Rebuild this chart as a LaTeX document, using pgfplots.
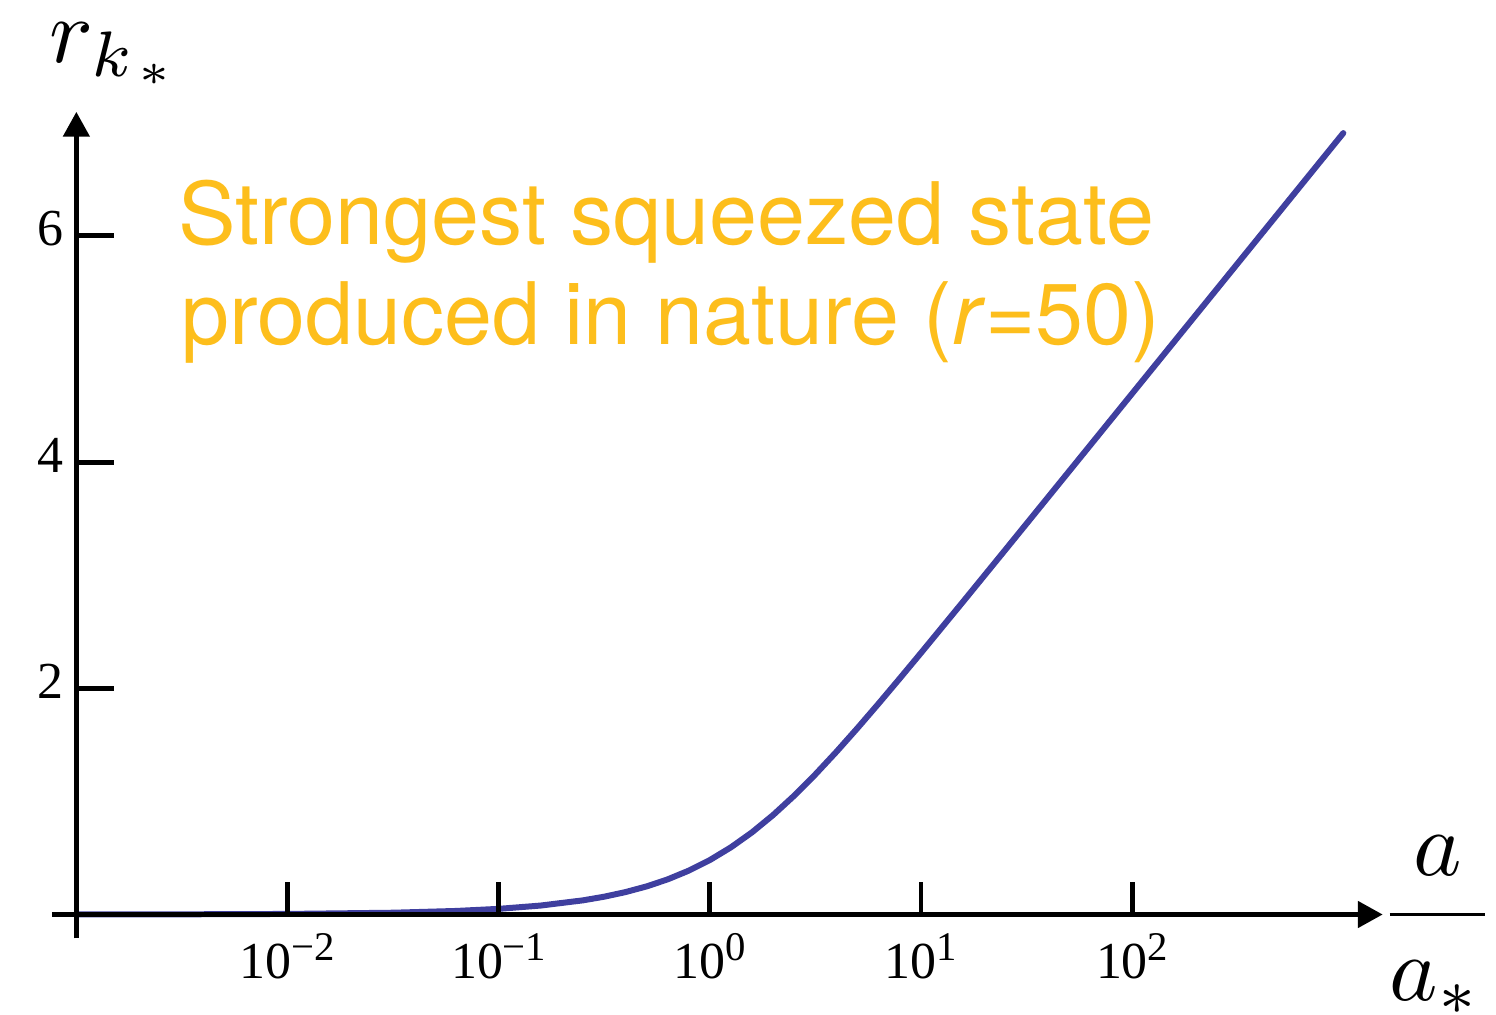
\documentclass[border=0pt]{standalone}
\usepackage{fontspec}
\setmainfont{Liberation Serif}
\newfontfamily\heros{TeX Gyre Heros}
\usepackage{pgfplots}
\pgfplotsset{compat=1.18}
\usetikzlibrary{arrows.meta}

\definecolor{curveblue}{RGB}{63,63,159}
\definecolor{noteorange}{RGB}{253,190,28}

% tick label pieces
\newcommand\ticksize{\fontsize{13}{15}\selectfont}
\newcommand\tsup[1]{\raisebox{4.5pt}{\fontsize{10.2}{11}\selectfont #1}}

\begin{document}
\begin{tikzpicture}
\begin{axis}[
  hide axis, scale only axis,
  width=333.25pt, height=207pt,
  xmode=log, xmin=7.66e-4, xmax=1537.5,
  ymin=-0.2118, ymax=7.096,
  clip=false]

\addplot[curveblue, line width=1.5pt, line cap=round, line join=round] table {
x r
0.001   0.0005
0.00316 0.0016
0.01    0.0050
0.0316  0.0158
0.0631  0.0315
0.1     0.0500
0.158   0.0791
0.251   0.1253
0.3162  0.1575
0.398   0.1978
0.5012  0.2481
0.631   0.3105
0.7943  0.3875
1       0.4812
1.2589  0.5940
1.585   0.7267
1.9953  0.8798
2.512   1.0513
3.1623  1.2389
3.981   1.4393
5.0119  1.6494
6.310   1.8663
7.9433  2.0878
10      2.3124
15.85   2.7670
25.12   3.2252
39.81   3.6848
63.10   4.1450
100     4.6053
158.5   5.0658
251.2   5.5262
398.1   5.9867
631.0   6.4472
1000    6.9078
};

% axis lines with arrow heads
\draw[line width=1.25pt, -{Triangle[length=6.25pt,width=6.5pt]}]
  (axis cs:7.66e-4,0) -- (axis cs:1537.5,0);
\draw[line width=1.25pt, -{Triangle[length=6.25pt,width=6.5pt]}]
  (axis cs:1e-3,-0.2118) -- (axis cs:1e-3,7.096);

% x ticks and labels
\draw[line width=1.25pt] (axis cs:1e-2,0) -- ++(0pt,8.25pt);
\draw[line width=1.25pt] (axis cs:1e-1,0) -- ++(0pt,8.25pt);
\draw[line width=1.25pt] (axis cs:1,0)    -- ++(0pt,8.25pt);
\draw[line width=1.25pt] (axis cs:10,0)   -- ++(0pt,8.25pt);
\draw[line width=1.25pt] (axis cs:100,0)  -- ++(0pt,8.25pt);
\node[anchor=base, inner sep=0] at ([yshift=-15.9pt]axis cs:1e-2,0) {\ticksize 10\tsup{−2}};
\node[anchor=base, inner sep=0] at ([yshift=-15.9pt]axis cs:1e-1,0) {\ticksize 10\tsup{−1}};
\node[anchor=base, inner sep=0] at ([yshift=-15.9pt]axis cs:1,0)    {\ticksize 10\tsup{0}};
\node[anchor=base, inner sep=0] at ([yshift=-15.9pt]axis cs:10,0)   {\ticksize 10\tsup{1}};
\node[anchor=base, inner sep=0] at ([yshift=-15.9pt]axis cs:100,0)  {\ticksize 10\tsup{2}};

% y ticks and labels
\draw[line width=1.25pt] (axis cs:1e-3,2) -- ++(9.5pt,0pt);
\draw[line width=1.25pt] (axis cs:1e-3,4) -- ++(9.5pt,0pt);
\draw[line width=1.25pt] (axis cs:1e-3,6) -- ++(9.5pt,0pt);
\node[anchor=base east, inner sep=0] at ([xshift=-3pt,yshift=-2.5pt]axis cs:1e-3,2) {\ticksize 2};
\node[anchor=base east, inner sep=0] at ([xshift=-3pt,yshift=-2.5pt]axis cs:1e-3,4) {\ticksize 4};
\node[anchor=base east, inner sep=0] at ([xshift=-3pt,yshift=-2.5pt]axis cs:1e-3,6) {\ticksize 6};

\coordinate (TL) at ([shift={(-13pt,235pt)}]rel axis cs:0,0);
\end{axis}

% labels and note, placed on a 1496 x 1016 grid
\begin{scope}[shift={(TL)}, x=0.25pt, y=-0.25pt]
\path (0,0) rectangle (1496,1016);
\node[anchor=base west, inner sep=0, scale=2.3] at (48,63)
  {$r_{k_{\hspace{0.8pt}*}}$};
\node[anchor=base west, inner sep=0, scale=2.3] at (1379,939)
  {$\displaystyle\frac{a}{a_{*}\hspace{0.5pt}}$};
\node[anchor=base west, inner sep=0, text=noteorange] at (178,245)
  {\heros\fontsize{21.6}{25}\selectfont Strongest squeezed state};
\node[anchor=base west, inner sep=0, text=noteorange] at (181,345)
  {\heros\fontsize{21.6}{25}\selectfont produced in nature (\textit{r}=50)};
\end{scope}
\end{tikzpicture}
\end{document}
